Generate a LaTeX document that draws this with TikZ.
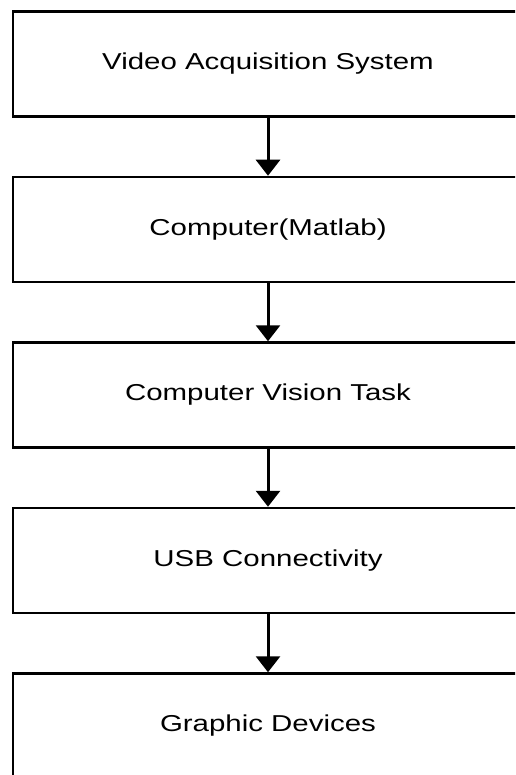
\documentclass[tikz,border=0pt]{standalone}
\usepackage{fontspec}
\setmainfont{Liberation Sans}
\usetikzlibrary{positioning,arrows.meta}

% wide lettering used in the blocks
\newcommand{\stretched}[1]{\scalebox{1.28}[1]{#1}}

\tikzset{
    block/.style={draw, line width=2.5pt, minimum width=510pt, minimum height=105pt,
        inner sep=0pt, font=\fontsize{23}{27}\selectfont},
    flow/.style={line width=3pt, -{Triangle[width=24pt,length=16pt]}}
}

\begin{document}
\begin{tikzpicture}

\useasboundingbox (0,0) rectangle (515pt,-775pt);
\clip (0,0) rectangle (515pt,-775pt);

% processing chain, top to bottom
\node[block] (video) at (268pt,-64pt) {\stretched{Video Acquisition System}};
\node[block, below=58pt of video] (matlab) {\stretched{Computer(Matlab)}};
\node[block, below=58pt of matlab] (vision) {\stretched{Computer Vision Task}};
\node[block, below=58pt of vision] (usb) {\stretched{USB Connectivity}};
\node[block, below=58pt of usb] (graphic) {\stretched{Graphic Devices}};

\draw[flow] (video) -- (matlab);
\draw[flow] (matlab) -- (vision);
\draw[flow] (vision) -- (usb);
\draw[flow] (usb) -- (graphic);

\end{tikzpicture}
\end{document}
